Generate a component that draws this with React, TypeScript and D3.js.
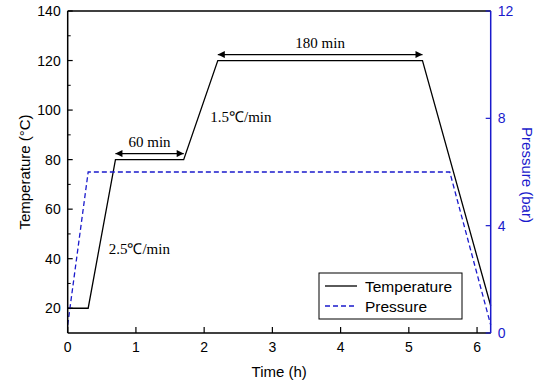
import { useEffect, useRef } from 'react';
import * as d3 from 'd3';

// temperature profile (h, °C)
const tempTime = [0, 0.3, 0.7, 1.7, 2.2, 5.2, 6.2];
const tempValue = [20, 20, 80, 80, 120, 120, 21];
// pressure profile (h, bar)
const presTime = [0, 0.3, 5.6, 6.2];
const presValue = [0.3, 6, 6, 0.3];

const xTicks = [0, 1, 2, 3, 4, 5, 6];
const yTicks = [20, 40, 60, 80, 100, 120, 140];
const yMinor = [30, 50, 70, 90, 110, 130];
const y2Ticks = [0, 4, 8, 12];

// annotations: [x0, x1, y(°C), label]
const spans: [number, number, number, string][] = [
  [0.7, 1.7, 80, '60 min'],
  [2.2, 5.2, 120, '180 min'],
];
const rates: [number, number, string][] = [
  [0.6, 42, '2.5℃/min'],
  [2.09, 95, '1.5℃/min'],
];

const W = 550;
const H = 385;
const left = 67.7;
const right = 490.7;
const top = 11;
const bottom = 333;
const blue = '#1a1acc';
const sans = 'Liberation Sans, Arial, sans-serif';
const serif = 'Liberation Serif, Times New Roman, serif';

const App = () => {
  const ref = useRef<SVGSVGElement>(null);

  useEffect(() => {
    const svg = d3.select(ref.current);
    svg.selectAll('*').remove();

    const x = d3.scaleLinear().domain([0, 6.2]).range([left, right]);
    const y = d3.scaleLinear().domain([10, 140]).range([bottom, top]);
    const y2 = d3.scaleLinear().domain([0, 12]).range([bottom, top]);

    const defs = svg.append('defs');
    defs.append('marker')
      .attr('id', 'ah')
      .attr('viewBox', '0 0 10 10')
      .attr('refX', 10).attr('refY', 5)
      .attr('markerWidth', 9).attr('markerHeight', 7)
      .attr('markerUnits', 'userSpaceOnUse')
      .attr('orient', 'auto-start-reverse')
      .append('path').attr('d', 'M0,0 L10,5 L0,10 Z').attr('fill', '#000');

    // data lines
    const tempLine = d3.line<number>().x((d, i) => x(tempTime[i])).y(d => y(d));
    svg.append('path')
      .attr('d', tempLine(tempValue))
      .attr('fill', 'none').attr('stroke', '#000').attr('stroke-width', 1.3);

    const presLine = d3.line<number>().x((d, i) => x(presTime[i])).y(d => y2(d));
    svg.append('path')
      .attr('d', presLine(presValue))
      .attr('fill', 'none').attr('stroke', blue).attr('stroke-width', 1.3)
      .attr('stroke-dasharray', '5,3');

    // frame
    svg.append('line').attr('x1', left).attr('x2', right).attr('y1', top).attr('y2', top)
      .attr('stroke', '#000').attr('stroke-width', 1.5);
    svg.append('line').attr('x1', left).attr('x2', right).attr('y1', bottom).attr('y2', bottom)
      .attr('stroke', '#000').attr('stroke-width', 1.5);
    svg.append('line').attr('x1', left).attr('x2', left).attr('y1', top).attr('y2', bottom)
      .attr('stroke', '#000').attr('stroke-width', 1.5);
    svg.append('line').attr('x1', right).attr('x2', right).attr('y1', top).attr('y2', bottom)
      .attr('stroke', blue).attr('stroke-width', 1.5);

    // bottom axis
    xTicks.forEach(t => {
      svg.append('line').attr('x1', x(t)).attr('x2', x(t)).attr('y1', bottom).attr('y2', bottom - 6)
        .attr('stroke', '#000').attr('stroke-width', 1.2);
      svg.append('text').attr('x', x(t)).attr('y', bottom + 19)
        .attr('text-anchor', 'middle').attr('font-family', sans).attr('font-size', 14)
        .text(t);
    });

    // left axis
    yTicks.forEach(t => {
      svg.append('line').attr('x1', left).attr('x2', left + 5).attr('y1', y(t)).attr('y2', y(t))
        .attr('stroke', '#000').attr('stroke-width', 1.2);
      svg.append('text').attr('x', left - 7).attr('y', y(t) + 5)
        .attr('text-anchor', 'end').attr('font-family', sans).attr('font-size', 14)
        .text(t);
    });
    yMinor.forEach(t => {
      svg.append('line').attr('x1', left).attr('x2', left + 3).attr('y1', y(t)).attr('y2', y(t))
        .attr('stroke', '#000').attr('stroke-width', 1);
    });

    // right axis
    y2Ticks.forEach(t => {
      svg.append('line').attr('x1', right).attr('x2', right - 5).attr('y1', y2(t)).attr('y2', y2(t))
        .attr('stroke', blue).attr('stroke-width', 1.2);
      svg.append('text').attr('x', right + 7).attr('y', y2(t) + 5)
        .attr('text-anchor', 'start').attr('font-family', sans).attr('font-size', 14)
        .attr('fill', blue).text(t);
    });

    // axis titles
    svg.append('text').attr('x', (left + right) / 2).attr('y', 377)
      .attr('text-anchor', 'middle').attr('font-family', sans).attr('font-size', 15)
      .text('Time (h)');
    svg.append('text')
      .attr('transform', `translate(30,${(top + bottom) / 2}) rotate(-90)`)
      .attr('text-anchor', 'middle').attr('font-family', sans).attr('font-size', 15)
      .text('Temperature (°C)');
    svg.append('text')
      .attr('transform', `translate(522,${(top + bottom) / 2 + 3}) rotate(90)`)
      .attr('text-anchor', 'middle').attr('font-family', sans).attr('font-size', 15)
      .attr('fill', blue).text('Pressure (bar)');

    // duration arrows
    spans.forEach(([a, b, v, label]) => {
      const yy = y(v) - 6;
      svg.append('line').attr('x1', x(a)).attr('x2', x(b)).attr('y1', yy).attr('y2', yy)
        .attr('stroke', '#000').attr('stroke-width', 1.3)
        .attr('marker-start', 'url(#ah)').attr('marker-end', 'url(#ah)');
      svg.append('text').attr('x', (x(a) + x(b)) / 2).attr('y', yy - 7)
        .attr('text-anchor', 'middle').attr('font-family', serif).attr('font-size', 15)
        .text(label);
    });

    // ramp rates
    rates.forEach(([t, v, label]) => {
      svg.append('text').attr('x', x(t)).attr('y', y(v))
        .attr('font-family', serif).attr('font-size', 15)
        .text(label);
    });

    // legend
    const lg = svg.append('g').attr('transform', 'translate(319,273)');
    lg.append('rect').attr('width', 143).attr('height', 46)
      .attr('fill', '#fff').attr('stroke', '#000').attr('stroke-width', 1);
    lg.append('line').attr('x1', 6).attr('x2', 38).attr('y1', 13).attr('y2', 13)
      .attr('stroke', '#000').attr('stroke-width', 1.3);
    lg.append('text').attr('x', 46).attr('y', 18.5)
      .attr('font-family', sans).attr('font-size', 15.5).text('Temperature');
    lg.append('line').attr('x1', 6).attr('x2', 38).attr('y1', 33).attr('y2', 33)
      .attr('stroke', blue).attr('stroke-width', 1.3).attr('stroke-dasharray', '5,3');
    lg.append('text').attr('x', 46).attr('y', 38.5)
      .attr('font-family', sans).attr('font-size', 15.5).text('Pressure');
  }, []);

  return (
    <svg ref={ref} width={W} height={H}
      style={{ position: 'absolute', left: 0, top: 0, background: '#fff' }} />
  );
};

export default App;
